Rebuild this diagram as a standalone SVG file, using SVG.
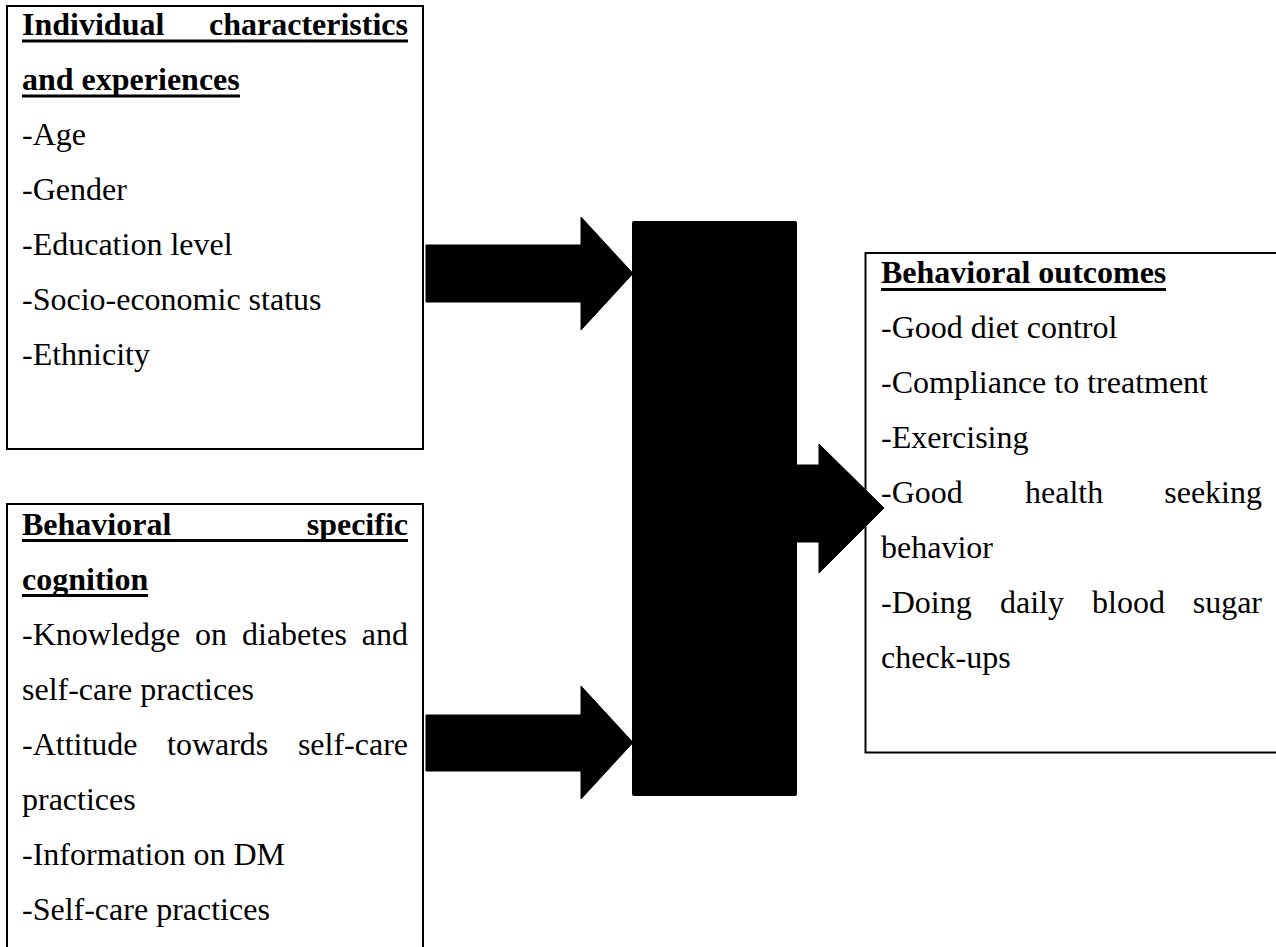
<svg xmlns="http://www.w3.org/2000/svg" width="1276" height="947" viewBox="0 0 1276 947">
  <style>
    .box { fill: #ffffff; stroke: #000000; stroke-width: 2; }
    .t { font-family: "Liberation Serif", "Times New Roman", serif; font-size: 32px; fill: #000000; }
    .h { font-family: "Liberation Serif", "Times New Roman", serif; font-size: 32px; font-weight: bold; fill: #000000; }
    .ul { fill: #000000; }
    .arrow { fill: #000000; stroke: #000000; stroke-width: 1; stroke-linejoin: round; }
    .bar { fill: #000000; }
  </style>
  <rect x="0" y="0" width="1276" height="947" fill="#ffffff"/>

  <g id="node-individual">
    <rect class="box" x="7" y="6" width="416" height="443"/>
    <text class="h" x="22" y="35">Individual</text>
    <text class="h" x="408" y="35" text-anchor="end">characteristics</text>
    <rect class="ul" x="22" y="39.5" width="386" height="3"/>
    <text class="h" x="22" y="90">and experiences</text>
    <rect class="ul" x="22" y="94.5" width="218" height="3"/>
    <text class="t" x="22" y="145">-Age</text>
    <text class="t" x="22" y="200">-Gender</text>
    <text class="t" x="22" y="255">-Education level</text>
    <text class="t" x="22" y="310">-Socio-economic status</text>
    <text class="t" x="22" y="365">-Ethnicity</text>
  </g>

  <g id="node-cognition">
    <rect class="box" x="7" y="504" width="416" height="470"/>
    <text class="h" x="22" y="535">Behavioral</text>
    <text class="h" x="408" y="535" text-anchor="end">specific</text>
    <rect class="ul" x="22" y="539" width="386" height="3"/>
    <text class="h" x="22" y="590">cognition</text>
    <rect class="ul" x="22" y="594" width="126" height="3"/>
    <text class="t" x="22" y="645">-Knowledge</text>
    <text class="t" x="195" y="645">on</text>
    <text class="t" x="242" y="645">diabetes</text>
    <text class="t" x="408" y="645" text-anchor="end">and</text>
    <text class="t" x="22" y="700">self-care practices</text>
    <text class="t" x="22" y="755">-Attitude</text>
    <text class="t" x="167" y="755">towards</text>
    <text class="t" x="408" y="755" text-anchor="end">self-care</text>
    <text class="t" x="22" y="810">practices</text>
    <text class="t" x="22" y="865">-Information on DM</text>
    <text class="t" x="22" y="920">-Self-care practices</text>
  </g>

  <g id="node-center">
    <rect class="bar" x="632" y="221" width="165" height="575" rx="2" ry="2"/>
  </g>

  <g id="node-outcomes">
    <rect class="box" x="865.5" y="253" width="440" height="499.5"/>
    <text class="h" x="881" y="283">Behavioral outcomes</text>
    <rect class="ul" x="881" y="288" width="285" height="3"/>
    <text class="t" x="881" y="338">-Good diet control</text>
    <text class="t" x="881" y="393">-Compliance to treatment</text>
    <text class="t" x="881" y="448">-Exercising</text>
    <text class="t" x="881" y="503">-Good</text>
    <text class="t" x="1025" y="503">health</text>
    <text class="t" x="1262" y="503" text-anchor="end">seeking</text>
    <text class="t" x="881" y="558">behavior</text>
    <text class="t" x="881" y="613">-Doing</text>
    <text class="t" x="1000" y="613">daily</text>
    <text class="t" x="1092" y="613">blood</text>
    <text class="t" x="1262" y="613" text-anchor="end">sugar</text>
    <text class="t" x="881" y="668">check-ups</text>
  </g>

  <g id="connectors">
    <polygon class="arrow" points="426,245 581,245 581,217 633,273.5 581,330 581,302 426,302"/>
    <polygon class="arrow" points="426,715 581,715 581,686 633,742.5 581,799 581,771 426,771"/>
    <polygon class="arrow" points="796,465 819,465 819,444 884,508 819,573 819,542 796,542"/>
  </g>
</svg>
